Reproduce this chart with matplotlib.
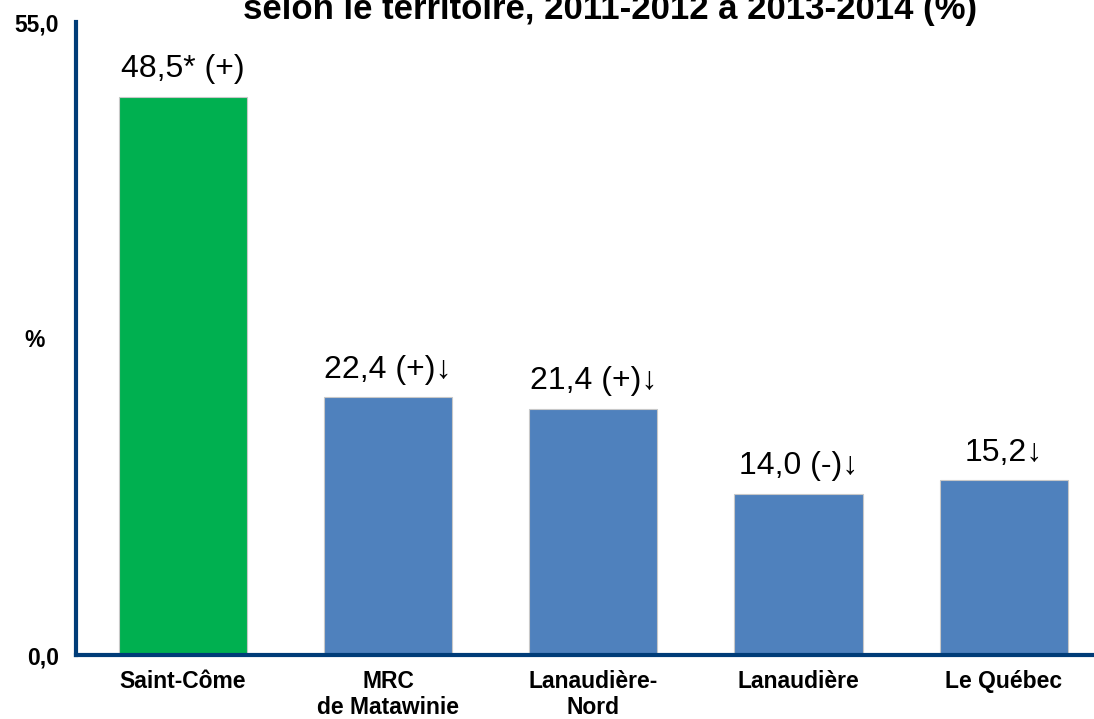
import matplotlib.pyplot as plt

plt.rcParams['font.family'] = ['Liberation Sans', 'DejaVu Sans']

territoires = ["Saint-Côme", "MRC\nde Matawinie", "Lanaudière-\nNord", "Lanaudière", "Le Québec"]
valeurs = [48.5, 22.4, 21.4, 14.0, 15.2]
etiquettes = ["48,5* (+)", "22,4 (+)↓", "21,4 (+)↓", "14,0 (-)↓", "15,2↓"]
couleurs = ["#00B050", "#4F81BD", "#4F81BD", "#4F81BD", "#4F81BD"]

fig = plt.figure(figsize=(10.94, 7.19), dpi=100)
ax = fig.add_axes([76/1094, 64/719, 1 - 76/1094, (655-22)/719])

x = range(len(territoires))
bars = ax.bar(x, valeurs, width=0.625, color=couleurs, edgecolor="#c8c8c8", linewidth=0.8, zorder=2)

for b, txt in zip(bars, etiquettes):
    ax.annotate(txt, (b.get_x() + b.get_width()/2, b.get_height()),
                xytext=(0, 9), textcoords="offset points",
                ha="center", va="bottom", fontsize=23)

ax.set_xlim(-0.52, 4.44)
ax.set_ylim(0, 55)
ax.set_yticks([0, 55])
ax.set_yticklabels(["0,0", "55,0"], fontsize=16.5, fontweight="bold")
ax.set_xticks(list(x))
ax.set_xticklabels(territoires, fontsize=16.5, fontweight="bold", va="top", linespacing=1.15)
ax.tick_params(axis="y", length=0, pad=12)
ax.tick_params(axis="x", length=0, pad=11)

for s in ["top", "right"]:
    ax.spines[s].set_visible(False)
for s in ["left", "bottom"]:
    ax.spines[s].set_color("#003C78")
    ax.spines[s].set_linewidth(3)

fig.text(35/1094, 1 - 340/719, "%", fontsize=16.5, fontweight="bold", ha="center", va="center")
fig.text(610/1094, 1 - 10/719, "selon le territoire, 2011-2012 à 2013-2014 (%)",
         fontsize=25, fontweight="bold", ha="center", va="center")

fig.savefig("out.png", dpi=100)
